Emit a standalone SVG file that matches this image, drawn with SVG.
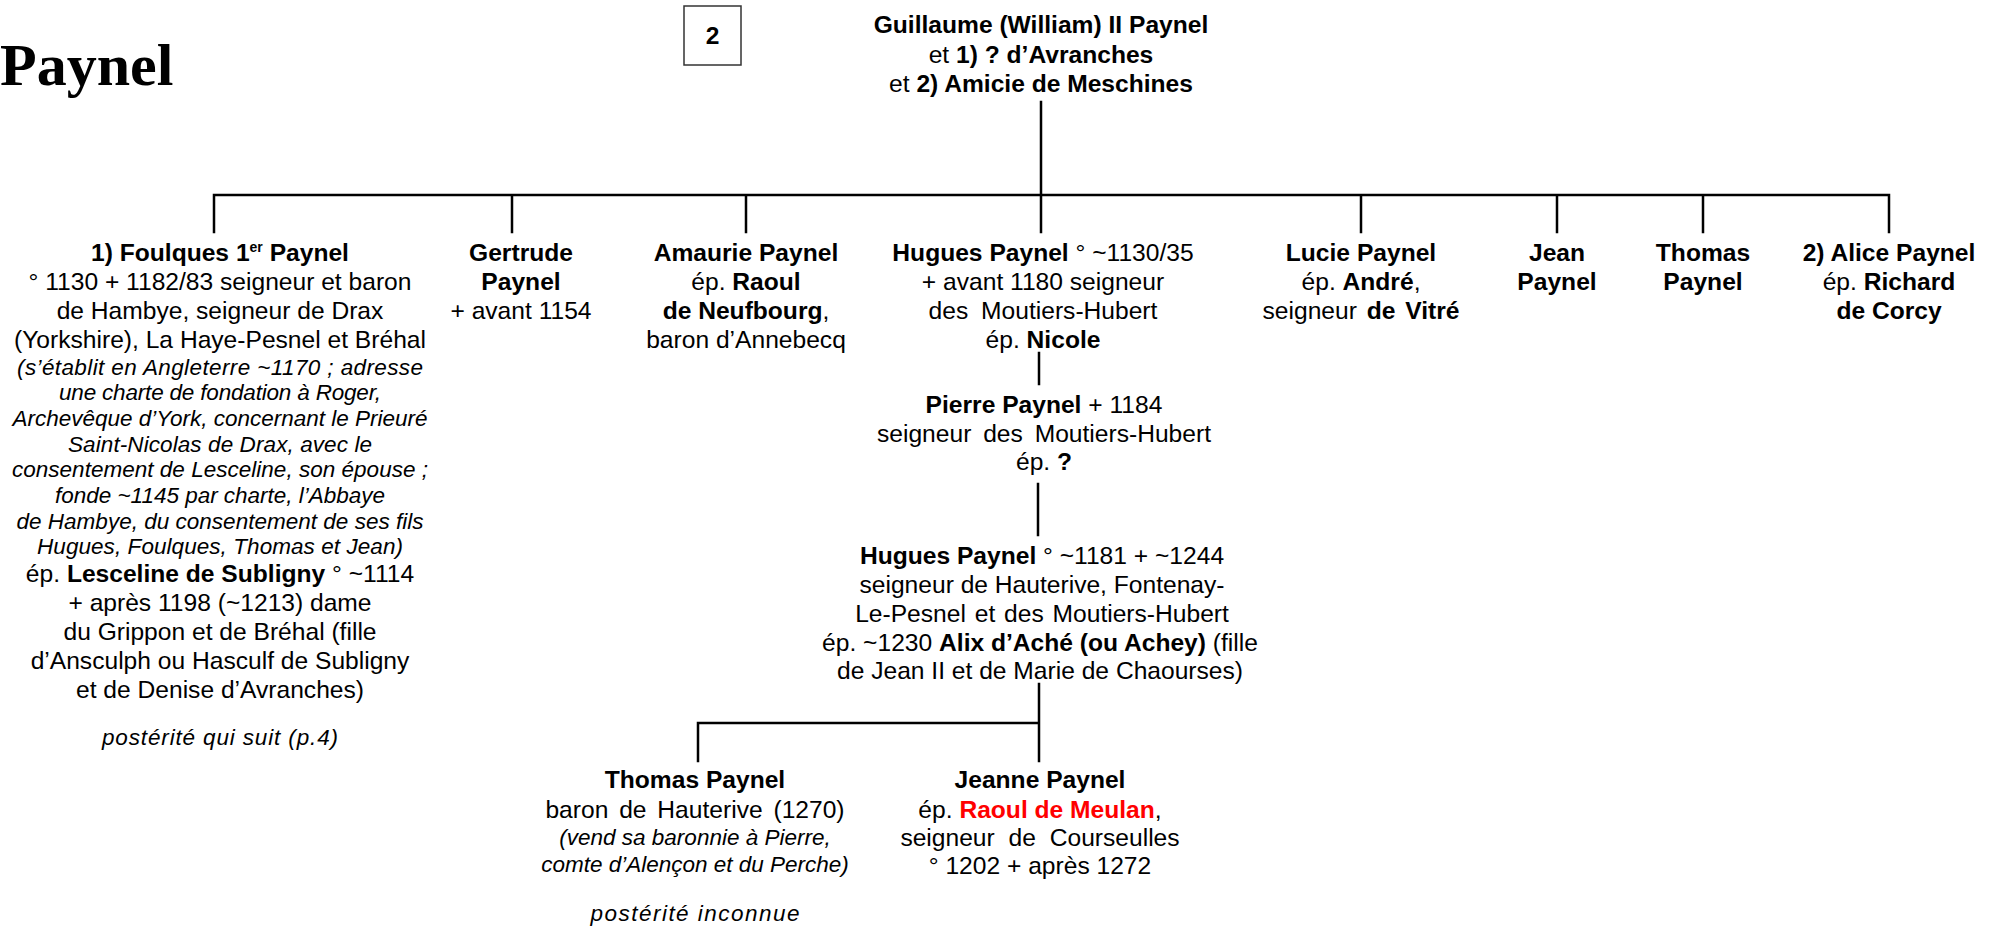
<svg xmlns="http://www.w3.org/2000/svg" width="1996" height="927" viewBox="0 0 1996 927">
<style>
.t{font-family:"Liberation Sans",Arial,sans-serif;font-size:24.6px;fill:#000;text-anchor:middle}
.b{font-weight:bold}
.i{font-style:italic;font-size:22.5px}
.red{fill:#FF0000;font-weight:bold}
.ln{stroke:#000;stroke-width:2.5;fill:none;stroke-linecap:square}
.title{font-family:"Liberation Serif","Times New Roman",serif;font-size:60px;font-weight:bold;fill:#000}
</style>
<rect width="1996" height="927" fill="#fff"/>
<text class="title" x="0" y="85">Paynel</text>
<g id="page-box">
<rect x="684" y="6" width="57" height="59" fill="#fff" stroke="#333" stroke-width="1.5"/>
<text class="t b" x="712.5" y="44">2</text>
</g>
<g id="connectors">
<path class="ln" d="M1041,102 V195 M214,195 H1889 M214,195 V232 M512,195 V232 M746,195 V232 M1041,195 V232 M1361,195 V232 M1557,195 V232 M1703,195 V232 M1889,195 V232"/>
<path class="ln" d="M1039,353 V384 M1038,484 V535 M1039,684 V761 M698,723 H1039 M698,723 V761"/>
</g>
<g id="n-guillaume" class="t">
<text x="1041" y="33" class="b">Guillaume (William) II Paynel</text>
<text x="1041" y="63">et <tspan class="b">1) ? d’Avranches</tspan></text>
<text x="1041" y="92">et <tspan class="b">2) Amicie de Meschines</tspan></text>
</g>
<g id="n-foulques" class="t">
<text x="220" y="261" class="b">1) Foulques 1<tspan font-size="14" dy="-9">er</tspan><tspan dy="9"> Paynel</tspan></text>
<text x="220" y="290">° 1130 + 1182/83 seigneur et baron</text>
<text x="220" y="319">de Hambye, seigneur de Drax</text>
<text x="220" y="348">(Yorkshire), La Haye-Pesnel et Bréhal</text>
<text x="220" y="375" class="i" textLength="406" lengthAdjust="spacing">(s’établit en Angleterre ~1170 ; adresse</text>
<text x="220" y="400" class="i" textLength="322" lengthAdjust="spacing">une charte de fondation à Roger,</text>
<text x="220" y="426" class="i" textLength="415" lengthAdjust="spacing">Archevêque d’York, concernant le Prieuré</text>
<text x="220" y="452" class="i" textLength="304" lengthAdjust="spacing">Saint-Nicolas de Drax, avec le</text>
<text x="220" y="477" class="i" textLength="416" lengthAdjust="spacing">consentement de Lesceline, son épouse ;</text>
<text x="220" y="503" class="i" textLength="330" lengthAdjust="spacing">fonde ~1145 par charte, l’Abbaye</text>
<text x="220" y="529" class="i" textLength="407" lengthAdjust="spacing">de Hambye, du consentement de ses fils</text>
<text x="220" y="554" class="i" textLength="366" lengthAdjust="spacing">Hugues, Foulques, Thomas et Jean)</text>
<text x="220" y="582">ép. <tspan class="b">Lesceline de Subligny</tspan> ° ~1114</text>
<text x="220" y="611">+ après 1198 (~1213) dame</text>
<text x="220" y="640">du Grippon et de Bréhal (fille</text>
<text x="220" y="669">d’Ansculph ou Hasculf de Subligny</text>
<text x="220" y="698">et de Denise d’Avranches)</text>
<text x="220" y="745" class="i" font-size="24" textLength="236" lengthAdjust="spacing">postérité qui suit (p.4)</text>
</g>
<g id="n-gertrude" class="t">
<text x="521" y="261" class="b">Gertrude</text>
<text x="521" y="290" class="b">Paynel</text>
<text x="521" y="319">+ avant 1154</text>
</g>
<g id="n-amaurie" class="t">
<text x="746" y="261" class="b">Amaurie Paynel</text>
<text x="746" y="290">ép. <tspan class="b">Raoul</tspan></text>
<text x="746" y="319"><tspan class="b">de Neufbourg</tspan>,</text>
<text x="746" y="348">baron d’Annebecq</text>
</g>
<g id="n-hugues1" class="t">
<text x="1043" y="261"><tspan class="b">Hugues Paynel</tspan> ° ~1130/35</text>
<text x="1043" y="290">+ avant 1180 seigneur</text>
<text x="1043" y="319" word-spacing="6">des Moutiers-Hubert</text>
<text x="1043" y="348">ép. <tspan class="b">Nicole</tspan></text>
</g>
<g id="n-lucie" class="t">
<text x="1361" y="261" class="b">Lucie Paynel</text>
<text x="1361" y="290">ép. <tspan class="b">André</tspan>,</text>
<text x="1361" y="319" word-spacing="3">seigneur <tspan class="b">de Vitré</tspan></text>
</g>
<g id="n-jean" class="t">
<text x="1557" y="261" class="b">Jean</text>
<text x="1557" y="290" class="b">Paynel</text>
</g>
<g id="n-thomas" class="t">
<text x="1703" y="261" class="b">Thomas</text>
<text x="1703" y="290" class="b">Paynel</text>
</g>
<g id="n-alice" class="t">
<text x="1889" y="261" class="b">2) Alice Paynel</text>
<text x="1889" y="290">ép. <tspan class="b">Richard</tspan></text>
<text x="1889" y="319" class="b">de Corcy</text>
</g>
<g id="n-pierre" class="t">
<text x="1044" y="413"><tspan class="b">Pierre Paynel</tspan> + 1184</text>
<text x="1044" y="442" word-spacing="5">seigneur des Moutiers-Hubert</text>
<text x="1044" y="470">ép. <tspan class="b">?</tspan></text>
</g>
<g id="n-hugues2" class="t">
<text x="1042" y="564"><tspan class="b">Hugues Paynel</tspan> ° ~1181 +  ~1244</text>
<text x="1042" y="593">seigneur de Hauterive, Fontenay-</text>
<text x="1042" y="622" word-spacing="2">Le-Pesnel et des Moutiers-Hubert</text>
<text x="1040" y="651">ép. ~1230 <tspan class="b">Alix d’Aché (ou Achey)</tspan> (fille</text>
<text x="1040" y="679">de Jean II et de Marie de Chaourses)</text>
</g>
<g id="n-thomas2" class="t">
<text x="695" y="788" class="b">Thomas Paynel</text>
<text x="695" y="818" word-spacing="4">baron de Hauterive (1270)</text>
<text x="695" y="845" class="i">(vend sa baronnie à Pierre,</text>
<text x="695" y="872" class="i">comte d’Alençon et du Perche)</text>
<text x="695" y="921" class="i" font-size="23" textLength="209" lengthAdjust="spacing">postérité inconnue</text>
</g>
<g id="n-jeanne" class="t">
<text x="1040" y="788" class="b">Jeanne Paynel</text>
<text x="1040" y="818">ép. <tspan class="red">Raoul de Meulan</tspan>,</text>
<text x="1040" y="846" word-spacing="7">seigneur de Courseulles</text>
<text x="1040" y="874">° 1202 + après 1272</text>
</g>
</svg>
